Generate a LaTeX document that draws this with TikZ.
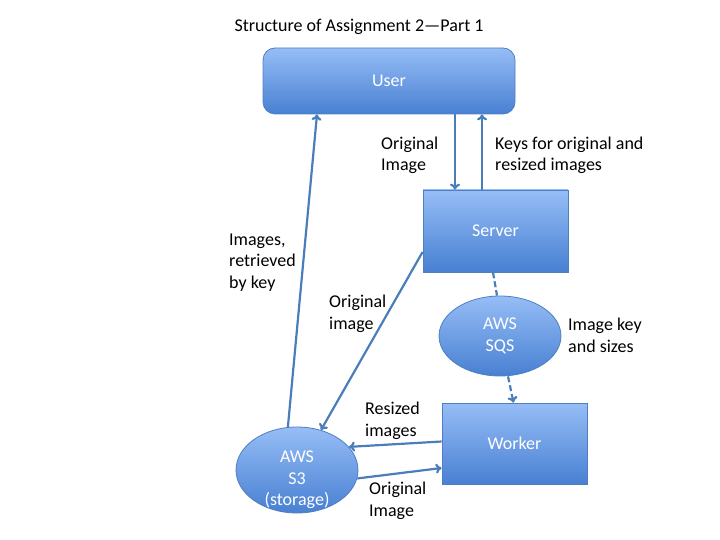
\documentclass[tikz,border=0pt]{standalone}
\usepackage{fontspec}
\setmainfont{Carlito}
\usepackage{tikz}
\usetikzlibrary{shapes.geometric,arrows.meta,calc,positioning}
\definecolor{boxtop}{HTML}{96BDF6}
\definecolor{boxbot}{HTML}{4880D2}
\definecolor{boxline}{HTML}{4F7FC0}
\definecolor{arrline}{HTML}{4A7EBB}

\begin{document}
\begin{tikzpicture}[x=1pt, y=-1pt,
  every node/.style={font=\fontsize{18}{21.5}\selectfont},
  unit/.style={draw=boxline, line width=0.8pt, top color=boxtop, bottom color=boxbot, text=white, font=\fontsize{18}{21.5}\selectfont},
  box/.style={unit, rectangle, minimum width=145pt, minimum height=82pt},
  store/.style={unit, ellipse, inner sep=0pt, minimum width=122pt, minimum height=80pt, align=center},
  lbl/.style={anchor=west, align=left, inner sep=0pt},
  arr/.style={draw=arrline, line width=2.2pt, -{To[length=6pt,width=10pt]}}]
\useasboundingbox (0,0) rectangle (720,540);
\node (title) at (359,27) {Structure of Assignment 2\textemdash Part 1};
\node[unit, rectangle, rounded corners=12pt, minimum width=252pt, minimum height=66pt] (user) at (389,81) {User};
\node[box] (server) at (495.5,231) {Server};
\node[store] (sqs) at (500,336) {AWS\\SQS};
\node[box, minimum height=81pt] (worker) at (514.5,443.5) {Worker};
\node[store, minimum height=86pt, label={[text=white, align=center, yshift=-10pt]center:AWS\\S3\\(storage)}] (s3) at (297,470) {};
% labels
\node[lbl] (lorigup) at (381,155.5) {Original\\Image};
\node[lbl] (lkeys) at (495,155.5) {Keys for original and\\resized images};
\node[lbl] (lretr) at (229,262.5) {Images,\\retrieved\\by key};
\node[lbl] (lorigs3) at (329,314) {Original\\image};
\node[lbl] (lsizes) at (568,335.5) {Image key\\and sizes};
\node[lbl] (lresized) at (365,421) {Resized\\images};
\node[lbl] (lorigw) at (369,501) {Original\\Image};
% connectors
\draw[arr] ([xshift=66pt]user.south) -- ([xshift=-40.5pt]server.north);
\draw[arr] ([xshift=-13.5pt]server.north) -- ([xshift=93pt]user.south);
\draw[arr] (s3.102) -- ([xshift=-72pt]user.south);
\draw[arr] ([yshift=-21pt]server.west) -- (s3.59);
\draw[arr, -, dash pattern=on 6pt off 3pt] ([xshift=-2.5pt]server.south) -- ([xshift=-3pt]sqs.north);
\draw[arr, dash pattern=on 6pt off 3pt] ([xshift=8pt]sqs.south) -- ([xshift=-1pt]worker.north);
\draw[arr] ([yshift=2pt]worker.west) -- (s3.24);
\draw[arr] (s3.-8) -- ([yshift=-24.5pt]worker.west);
\end{tikzpicture}
\end{document}
